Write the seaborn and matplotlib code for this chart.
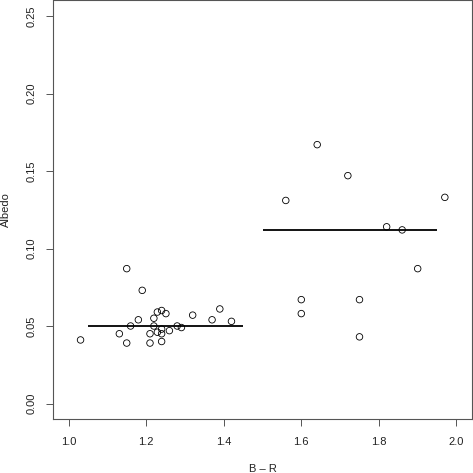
"""
Albedo versus B - R colour for two groups of objects
"""

import matplotlib
matplotlib.use("Agg")
import matplotlib.pyplot as plt
import matplotlib.ticker as mticker
import pandas as pd
import seaborn as sns

# -------------------------------------------------------
# Data
# -------------------------------------------------------

low_br = [1.150, 1.190, 1.229, 1.240, 1.251, 1.180, 1.220, 1.320, 1.390,
          1.370, 1.420, 1.160, 1.220, 1.240, 1.229, 1.210, 1.240, 1.260,
          1.280, 1.291, 1.131, 1.031, 1.150, 1.210, 1.240]
low_albedo = [0.087, 0.073, 0.059, 0.060, 0.058, 0.054, 0.055, 0.057, 0.061,
              0.054, 0.053, 0.050, 0.050, 0.048, 0.046, 0.045, 0.045, 0.047,
              0.050, 0.049, 0.045, 0.041, 0.039, 0.039, 0.040]

high_br = [1.641, 1.720, 1.560, 1.970, 1.820, 1.860, 1.900, 1.600, 1.750,
           1.600, 1.750]
high_albedo = [0.167, 0.147, 0.131, 0.133, 0.114, 0.112, 0.087, 0.067, 0.067,
               0.058, 0.043]

# mean albedo of each group and the colour range it is drawn over
mean_albedo = [0.050, 0.112]
mean_start = [1.05, 1.50]
mean_end = [1.45, 1.95]

x_ticks = [1.0, 1.2, 1.4, 1.6, 1.8, 2.0]
y_ticks = [0.00, 0.05, 0.10, 0.15, 0.20, 0.25]

df = pd.DataFrame({
    "B - R": low_br + high_br,
    "Albedo": low_albedo + high_albedo,
})

# -------------------------------------------------------
# Plot
# -------------------------------------------------------

sns.set_style("white")
plt.rcParams["font.family"] = ["Liberation Sans", "DejaVu Sans"]

fig = plt.figure(figsize=(4.73, 4.73), dpi=100)
ax = fig.add_axes([53 / 473, 54 / 473, 419 / 473, 418.5 / 473])

sns.scatterplot(
    data=df, x="B - R", y="Albedo", ax=ax,
    marker="o", s=22, facecolor="none", edgecolor="black", linewidth=0.6,
)
ax.hlines(mean_albedo, mean_start, mean_end, color="black", linewidth=1.3)

ax.set_xlim(0.96, 2.04)
ax.set_ylim(-0.01, 0.26)
ax.set_xticks(x_ticks)
ax.set_yticks(y_ticks)
ax.xaxis.set_major_formatter(mticker.FormatStrFormatter("%.1f"))
ax.yaxis.set_major_formatter(mticker.FormatStrFormatter("%.2f"))

for side in ax.spines.values():
    side.set_color("#555555")
    side.set_linewidth(0.8)

ax.tick_params(axis="both", direction="out", length=5, width=0.7,
               color="#555555", labelsize=8, labelcolor="#222222",
               bottom=True, left=True)
ax.tick_params(axis="x", pad=8)
ax.tick_params(axis="y", pad=7)
for lab in ax.get_yticklabels():
    lab.set_rotation(90)
    lab.set_va("center")

ax.set_xlabel("B – R", fontsize=8, color="#222222", labelpad=12)
ax.set_ylabel("Albedo", fontsize=8, color="#222222", labelpad=11)

fig.savefig("out.png", dpi=100)
plt.close(fig)
